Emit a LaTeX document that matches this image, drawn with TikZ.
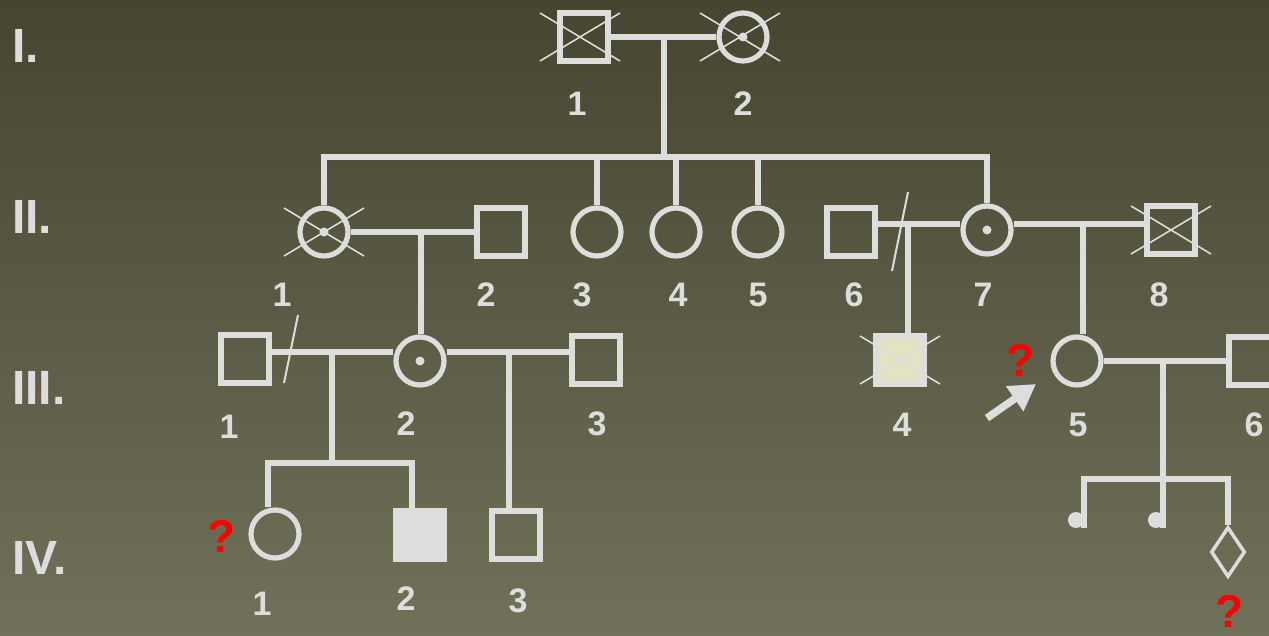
\documentclass[tikz,border=0pt]{standalone}
\usepackage{fontspec}
\setmainfont{Liberation Sans}
\usetikzlibrary{shapes.geometric,arrows.meta}
\definecolor{bgtop}{HTML}{464530}
\definecolor{bgbot}{HTML}{71715A}
\definecolor{ln}{HTML}{DDDDDD}
\definecolor{aff}{HTML}{E3E3C4}
\definecolor{qred}{HTML}{FF0000}
\newcommand\xcross[2][0]{\draw[xline] ([shift={(#1-40,-24)}]#2.center) -- ([shift={(#1+40,24)}]#2.center) ([shift={(#1-40,24)}]#2.center) -- ([shift={(#1+40,-24)}]#2.center);}
\newcommand\carrierdot[1]{\fill[ln] (#1.center) circle (4.5);}
\begin{document}
\begin{tikzpicture}[x=1pt,y=-1pt,
  male/.style={rectangle, draw=ln, line width=5.2pt, minimum size=48pt, inner sep=0pt},
  female/.style={circle, draw=ln, line width=5.2pt, minimum size=48pt, inner sep=0pt},
  lbl/.style={text=ln, font=\fontsize{34}{40}\selectfont\bfseries, inner sep=0pt},
  gen/.style={text=ln, font=\fontsize{48}{56}\selectfont\bfseries, inner sep=0pt, anchor=base west},
  qm/.style={text=qred, font=\fontsize{46}{50}\selectfont\bfseries, inner sep=0pt},
  edge/.style={draw=ln, line width=5.2pt},
  xline/.style={draw=ln, line width=1.6pt},
  slash/.style={draw=ln, line width=2pt},
  lost/.style={circle, fill=ln, minimum size=16pt, inner sep=0pt},
  unk/.style={diamond, draw=ln, line width=3.5pt, minimum width=34pt, minimum height=50pt, inner sep=0pt}]
\shade[top color=bgtop, bottom color=bgbot] (0,0) rectangle (1269,636);
\useasboundingbox (0,0) rectangle (1269,636);
\clip (0,0) rectangle (1269,636);

% generation labels
\node[gen] (gI) at (12,63) {I.};
\node[gen] (gII) at (12,234) {II.};
\node[gen] (gIII) at (12,404) {III.};
\node[gen] (gIV) at (12,574) {IV.};

% Generation I
\node[male] (I1) at (584,37) {};
\node[female] (I2) at (743,37) {};
\carrierdot{I2}
\xcross[-4]{I1}
\xcross[-3]{I2}
\node[lbl] (lI1) at (577,104) {1};
\node[lbl] (lI2) at (743,104) {2};

% Generation II
\node[female] (II1) at (324,232) {};
\node[male] (II2) at (501,232) {};
\node[female] (II3) at (597,232) {};
\node[female] (II4) at (676,232) {};
\node[female] (II5) at (758,232) {};
\node[male] (II6) at (851,232) {};
\node[female] (II7) at (987,230) {};
\node[male] (II8) at (1171,230) {};
\carrierdot{II1}
\carrierdot{II7}
\xcross{II1}
\xcross{II8}
\node[lbl] (lII1) at (282,295) {1};
\node[lbl] (lII2) at (486,295) {2};
\node[lbl] (lII3) at (582,295) {3};
\node[lbl] (lII4) at (678,295) {4};
\node[lbl] (lII5) at (758,295) {5};
\node[lbl] (lII6) at (854,295) {6};
\node[lbl] (lII7) at (983,295) {7};
\node[lbl] (lII8) at (1159,295) {8};

% Generation III
\node[male] (III1) at (245,359) {};
\node[female] (III2) at (420,361) {};
\node[male] (III3) at (596,360) {};
\node[male, fill=aff] (III4) at (900,360) {};
\node[female] (III5) at (1077,361) {};
\node[male] (III6) at (1253,361) {};
\carrierdot{III2}
\xcross{III4}
\node[lbl] (lIII1) at (229,427) {1};
\node[lbl] (lIII2) at (406,424) {2};
\node[lbl] (lIII3) at (597,424) {3};
\node[lbl] (lIII4) at (902,425) {4};
\node[lbl] (lIII5) at (1078,425) {5};
\node[lbl] (lIII6) at (1254,425) {6};

% Generation IV
\node[female] (IV1) at (275,534) {};
\node[male, fill=ln] (IV2) at (420,535) {};
\node[male] (IV3) at (516,535) {};
\node[lost] (IV4) at (1076,520) {};
\node[lost] (IV5) at (1156,520) {};
\node[unk] (IV6) at (1228,552) {};
\node[lbl] (lIV1) at (262,604) {1};
\node[lbl] (lIV2) at (406,599) {2};
\node[lbl] (lIV3) at (518,601) {3};

% question marks
\node[qm] (q1) at (1021,360) {?};
\node[qm] (q2) at (222,536) {?};
\node[qm] (q3) at (1230,611) {?};

% connectors
\coordinate (mI) at (664,37);
\coordinate (sII) at (664,157);
\draw[edge] (I1.east) -- (I2.west);
\draw[edge] (mI) -- (sII);
\draw[edge] (II1.north) -- (II1.north |- sII) -- (II7.north |- sII) -- (II7.north);
\foreach \c in {II3,II4,II5} \draw[edge] (\c.north |- sII) -- (\c.north);

\coordinate (m12) at (421,232);
\draw[edge] (II1.east) -- (II2.west);
\draw[edge] (m12) -- (m12 |- III2.north);

\coordinate (m67) at (908,224);
\coordinate (m78) at (1083,224);
\draw[edge] (II6.east |- m67) -- (II7.west |- m67);
\draw[edge] (II7.east |- m78) -- (II8.west |- m78);
\draw[edge] (m67) -- (m67 |- III4.north);
\draw[edge] (m78) -- (m78 |- III5.north);
\coordinate (s67a) at (908,192);
\coordinate (s67b) at (892,271);
\draw[slash] (s67a) -- (s67b);

\coordinate (mIII12) at (332,352);
\coordinate (mIII23) at (509,352);
\draw[edge] (III1.east |- mIII12) -- (III2.west |- mIII12);
\draw[edge] (III2.east |- mIII23) -- (III3.west |- mIII23);
\coordinate (sl1a) at (298,315);
\coordinate (sl1b) at (284,383);
\draw[slash] (sl1a) -- (sl1b);
\draw[edge] (mIII23) -- (mIII23 |- IV3.north);
\coordinate (sIV) at (332,463);
\coordinate (sIVl) at (268,463);
\coordinate (sIVr) at (412,463);
\draw[edge] (mIII12) -- (sIV);
\draw[edge] (sIVl |- IV1.north) -- (sIVl) -- (sIVr) -- (sIVr |- IV2.north);

\coordinate (mIII56) at (1163,361);
\coordinate (sR) at (1163,479);
\coordinate (sRl) at (1084,479);
\coordinate (sRr) at (1228,479);
\draw[edge] (III5.east) -- (III6.west);
\draw[edge] (mIII56) -- (mIII56 |- IV5.south);
\draw[edge] (sRl |- IV4.south) -- (sRl) -- (sRr) -- (IV6.north);

% proband arrow
\coordinate (pa) at (987,418);
\coordinate (pb) at (1036,384);
\draw[draw=ln, line width=7.5pt, -{Triangle[length=26pt,width=29pt]}] (pa) -- (pb);
\end{tikzpicture}
\end{document}
